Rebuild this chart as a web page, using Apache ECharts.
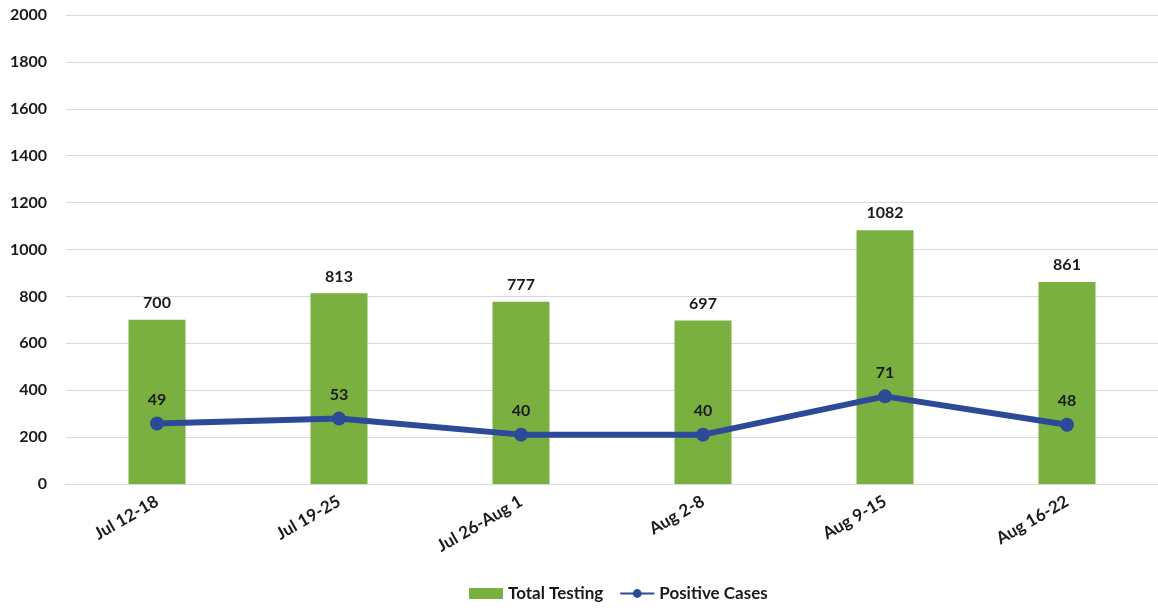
<!DOCTYPE html>
<html>
<head>
<meta charset="utf-8">
<script src="https://cdn.jsdelivr.net/npm/echarts@6/dist/echarts.min.js"></script>
<style>
html,body{margin:0;padding:0;background:#fff;}
#chart{width:1158px;height:610px;}
</style>
</head>
<body>
<div id="chart"></div>
<script>
const categories = ["Jul 12-18", "Jul 19-25", "Jul 26-Aug 1", "Aug 2-8", "Aug 9-15", "Aug 16-22"];
const totalTesting = [700, 813, 777, 697, 1082, 861];
const positiveCases = [49, 53, 40, 40, 71, 48];
const yTicks = [0, 200, 400, 600, 800, 1000, 1200, 1400, 1600, 1800, 2000];

const FONT = 'Lato';
const TXT = '#1a1a1a';

const chart = echarts.init(document.getElementById('chart'), null, {renderer: 'canvas'});
chart.setOption({
  animation: false,
  backgroundColor: '#fff',
  grid: {left: 66, top: 15, width: 1096, height: 469, containLabel: false},
  legend: {
    bottom: 3,
    left: 464,
    itemWidth: 34,
    itemHeight: 11,
    itemGap: 16,
    textStyle: {fontFamily: FONT, fontWeight: 'bold', fontSize: 17, color: TXT},
    data: [
      {name: 'Total Testing', icon: 'rect'},
      {name: 'Positive Cases'}
    ]
  },
  xAxis: {
    type: 'category',
    data: categories,
    axisTick: {show: false},
    axisLine: {show: true, lineStyle: {color: '#d9d9d9', width: 1}},
    axisLabel: {
      rotate: 30,
      margin: 16,
      fontFamily: FONT,
      fontWeight: 'bold',
      fontSize: 17,
      color: TXT
    }
  },
  yAxis: [
    {
      type: 'value',
      min: yTicks[0],
      max: yTicks[yTicks.length - 1],
      interval: 200,
      axisLine: {show: false},
      axisTick: {show: false},
      splitLine: {lineStyle: {color: '#d9d9d9', width: 1}},
      axisLabel: {
        margin: 19,
        fontFamily: FONT,
        fontWeight: 'bold',
        fontSize: 16,
        color: TXT,
        formatter: function (v) { return String(v); }
      }
    },
    {
      type: 'value',
      min: 0,
      max: 380,
      show: false,
      splitLine: {show: false}
    }
  ],
  series: [
    {
      name: 'Total Testing',
      type: 'bar',
      data: totalTesting,
      barWidth: 57,
      itemStyle: {color: '#79b040'},
      label: {
        show: true,
        position: 'top',
        distance: 9,
        fontFamily: FONT,
        fontWeight: 'bold',
        fontSize: 16,
        color: TXT
      },
      z: 2
    },
    {
      name: 'Positive Cases',
      type: 'line',
      yAxisIndex: 1,
      data: positiveCases,
      symbol: 'circle',
      symbolSize: 14,
      lineStyle: {color: '#2d4a98', width: 6},
      itemStyle: {color: '#2d4a98'},
      label: {
        show: true,
        position: 'top',
        distance: 9,
        fontFamily: FONT,
        fontWeight: 'bold',
        fontSize: 16,
        color: TXT
      },
      z: 3
    }
  ]
});
</script>
</body>
</html>
